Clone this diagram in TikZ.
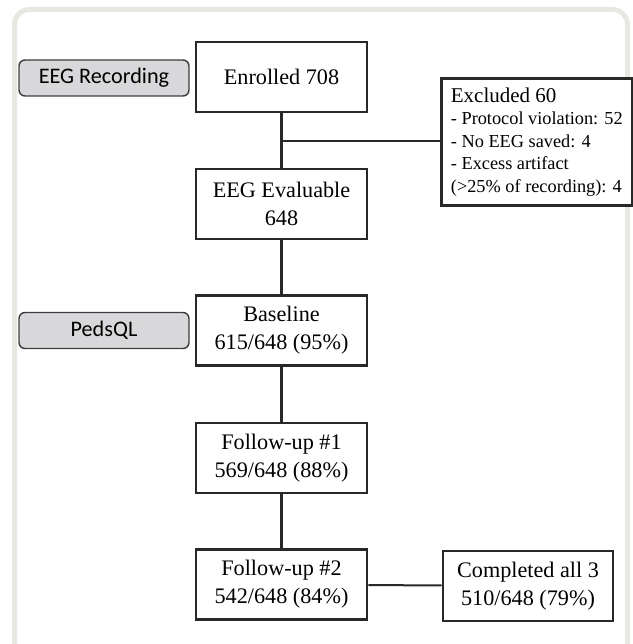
\documentclass[tikz,border=0pt]{standalone}
\usepackage{fontspec}
\setmainfont{Liberation Serif}
\newfontfamily\labelfont{Carlito}
\usepackage{tikz}

\definecolor{framegray}{RGB}{233,231,226}
\definecolor{tabgray}{RGB}{216,216,218}
\definecolor{linegray}{RGB}{40,40,40}

\begin{document}
\begin{tikzpicture}[x=1pt,y=-1pt,
    stage/.style={draw=linegray, line width=2.6pt, fill=white, minimum width=171pt,
        minimum height=70pt, align=center, inner sep=0pt,
        font=\fontsize{22.2}{28}\selectfont},
    tab/.style={draw=linegray!90, line width=1.4pt, fill=tabgray, rounded corners=6pt,
        minimum width=170pt, minimum height=36pt, inner sep=0pt,
        font=\labelfont\fontsize{22.2}{24}\selectfont},
    link/.style={draw=linegray, line width=2.6pt}]
            \useasboundingbox (0,0) rectangle (632,644);
            \begin{scope}
                \clip (0,0) rectangle (632,644);
                \draw[framegray, line width=5pt, rounded corners=15pt] (14.5,700) -- (14.5,9.5) -- (627.5,9.5) -- (627.5,700);
            \end{scope}

            \node[tab] (eegtab) at (104,78) {EEG Recording};
            \node[tab] (pedstab) at (104,330.5) {PedsQL};

            \node[stage] (enrolled) at (281.5,77) {Enrolled 708};
            \node[stage] (evaluable) at (281.5,204) {EEG Evaluable\\648};
            \node[stage] (baseline) at (281.5,330.5) {Baseline\\615/648 (95\%)};
            \node[stage] (fuone) at (281.5,458) {Follow-up \#1\\569/648 (88\%)};
            \node[stage] (futwo) at (281.5,584.5) {Follow-up \#2\\542/648 (84\%)};
            \node[stage, minimum width=170pt] (allthree) at (528,586) {Completed all 3\\510/648 (79\%)};

            \node[draw=linegray, line width=2.6pt, fill=white, anchor=north west, minimum width=191pt,
                minimum height=127pt, align=left, inner xsep=5pt, inner ysep=0pt,
                font=\fontsize{18.3}{22.5}\selectfont] (excluded) at (440,77)
                {{\fontsize{21}{23}\selectfont Excluded 60}\\- Protocol violation: 52\\- No EEG saved: 4\\- Excess artifact\\(>25\% of recording): 4};

            \coordinate (split) at (281.5,141);

            \draw[link] (enrolled) -- (evaluable);
            \draw[link] (split) -- (split -| excluded.west);
            \draw[link] (evaluable) -- (baseline);
            \draw[link] (baseline) -- (fuone);
            \draw[link] (fuone) -- (futwo);
            \draw[link, line width=2pt] (futwo) -- (allthree);
        \end{tikzpicture}
\end{document}
